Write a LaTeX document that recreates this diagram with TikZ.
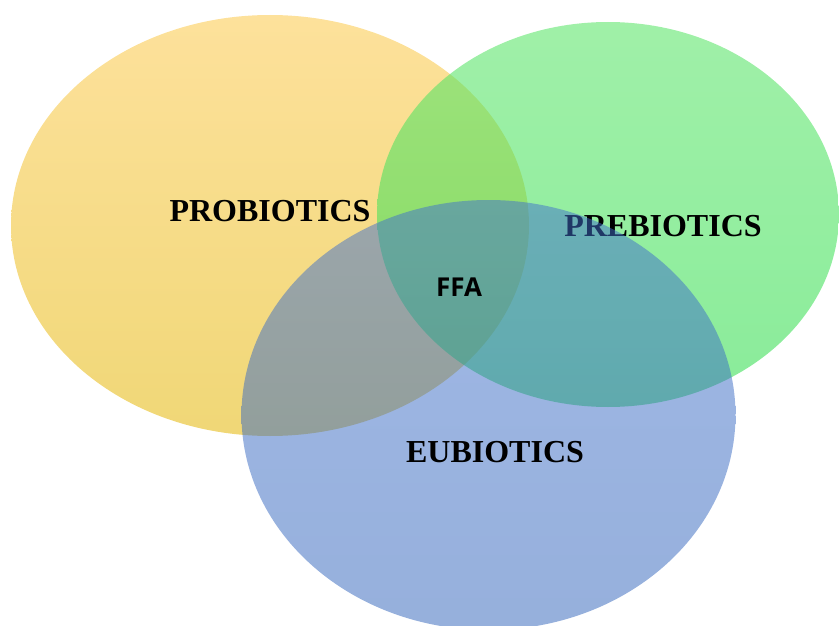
\documentclass[tikz,border=0pt]{standalone}
\usepackage{fontspec}
\setmainfont{Liberation Serif}
\newfontfamily\ffafont{Open Sans}
\definecolor{yelT}{RGB}{253,225,155}
\definecolor{yelM}{RGB}{252,220,125}
\definecolor{yelB}{RGB}{240,215,118}
\definecolor{grnT}{RGB}{91,229,105}
\definecolor{grnB}{RGB}{52,222,80}
\definecolor{bluT}{RGB}{65,113,205}
\definecolor{bluB}{RGB}{45,97,185}
\tikzset{
  lbl/.style={font=\fontsize{32}{35}\selectfont\bfseries, text=black, inner sep=0pt},
  ffalbl/.style={font=\ffafont\fontsize{26}{30}\selectfont\bfseries, text=black, inner sep=0pt}
}
\begin{document}
\begin{tikzpicture}[x=1pt,y=-1pt]
\useasboundingbox (0,0) rectangle (839,626);
% yellow ellipse
\shade[top color=yelT, middle color=yelM, bottom color=yelB]
  (270,225.5) ellipse [x radius=259pt, y radius=210.5pt];
% green ellipse
\shade[top color=grnT, bottom color=grnB, fill opacity=0.58, opacity=0.58]
  (608,214.5) ellipse [x radius=231pt, y radius=192.5pt];
\node[lbl] (pro) at (270,211) {PROBIOTICS};
\node[lbl] (pre) at (663,226) {PREBIOTICS};
% blue ellipse
\shade[top color=bluT, bottom color=bluB, fill opacity=0.5, opacity=0.5]
  (488.5,415) ellipse [x radius=247pt, y radius=215pt];
\node[ffalbl] (ffa) at (459,287) {FFA};
\node[lbl] (eu) at (495,452) {EUBIOTICS};
\end{tikzpicture}
\end{document}
